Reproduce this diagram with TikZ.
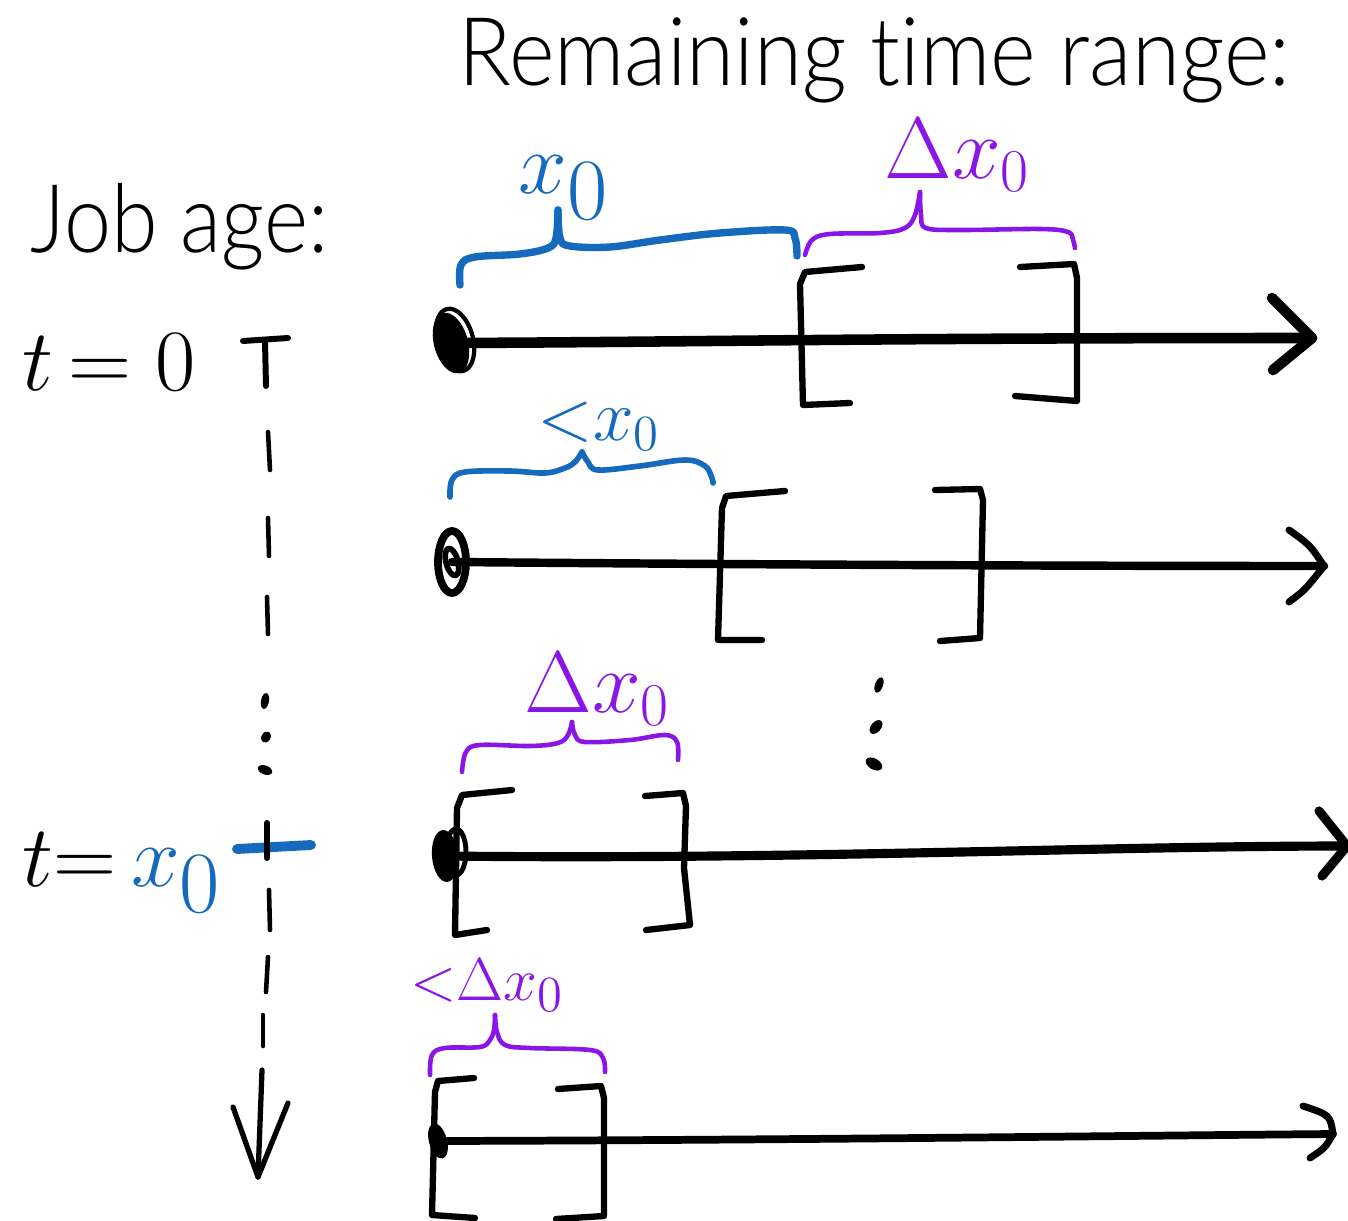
\documentclass[tikz,border=0pt]{standalone}
\usepackage{fontspec}
\setmainfont{Lato}
\newfontfamily\headfont{Lato Light}[Ligatures=NoCommon]
\definecolor{penblue}{RGB}{22,106,189}
\definecolor{penpurple}{RGB}{137,22,230}

\begin{document}
\begin{tikzpicture}[x=0.01cm,y=-0.01cm,
  ink/.style={line cap=round,line join=round},
  axisline/.style={ink,line width=2.6pt},
  bracketline/.style={ink,line width=1.8pt},
  bluebrace/.style={ink,penblue,line width=2.1pt},
  purplebrace/.style={ink,penpurple,line width=1.3pt},
  tickline/.style={ink,line width=1.3pt},
  heading/.style={font=\headfont\fontsize{27}{30}\selectfont,inner sep=0pt,anchor=base west},
  hand/.style={inner sep=0pt,anchor=base west},
]
\useasboundingbox (0,0) rectangle (1348,1221);

% headings
\node[heading] (title) at (458,85) {\scalebox{0.92}[1]{Remaining time range:}};
\node[heading] (jobage) at (30,252) {\scalebox{0.89}[1]{Job age:}};

% job-age labels
\node[hand,font=\fontsize{37}{37}\selectfont] (tzero) at (22,390) {$t\,{=}\;0$};
\node[hand,font=\fontsize{37}{37}\selectfont] (txzero) at (22,886) {$t{=}\,{\color{penblue}x_0}$};

% vertical time axis
\draw[tickline,line width=1.7pt] (243,341) -- (288,338);
\draw[tickline,line width=1.7pt] (265,341) -- (266,386);
\draw[tickline] (268,432) -- (270,470);
\draw[tickline] (268,518) -- (269,556);
\draw[tickline] (267,597) -- (268,634);
\fill[rotate around={-10:(265,701)}] (265,701) ellipse [x radius=0.04cm,y radius=0.08cm];
\fill[rotate around={-30:(266,737)}] (266,737) ellipse [x radius=0.045cm,y radius=0.06cm];
\fill[rotate around={-20:(265,770)}] (265,770) ellipse [x radius=0.075cm,y radius=0.045cm];
\draw[ink,penblue,line width=2.8pt] (237,849) -- (311,845);
\draw[tickline,line width=1.7pt] (267,823) -- (267,858);
\draw[tickline] (269,890) -- (270,930);
\draw[tickline] (268,957) -- (266,992);
\draw[tickline] (263,1015) -- (263,1046);
\coordinate (tend) at (258,1177);
\draw[tickline,line width=1.5pt] (262,1070) -- (tend);
\draw[tickline,line width=1.5pt] (233,1107) -- (tend) -- (288,1103);

% ---------- row 1 : t = 0 ----------
\coordinate (d1) at (451,343);
\coordinate (e1) at (1312,338);
\fill[rotate around={15:(d1)}] (d1) ellipse [x radius=0.17cm,y radius=0.31cm];
\draw[ink,line width=1.2pt,rotate around={15:(455,340)}] (455,340) ellipse [x radius=0.18cm,y radius=0.32cm];
\draw[axisline,line width=3pt] (d1) .. controls (700,342) and (850,338) .. (e1);
\draw[axisline,line width=3pt] (e1) ++(-40,-40) -- (e1) -- ++(-39,32);
\draw[bracketline] (862,267) -- (805,272) -- (800,284) -- (803,405) -- (850,403);
\draw[bracketline] (1020,267) -- (1074,264) -- (1077,278) -- (1077,401) -- (1015,396);
\draw[bluebrace] plot[smooth,tension=0.6] coordinates {(460,285) (461,265) (475,257) (520,254) (548,248) (556,238) (558,210)};
\draw[bluebrace] plot[smooth,tension=0.6] coordinates {(558,210) (560,238) (570,246) (610,247) (660,240) (720,233) (785,230) (795,238) (797,256)};
\draw[purplebrace] plot[smooth,tension=0.6] coordinates {(805,255) (812,240) (830,234) (880,233) (905,228) (915,215) (920,192)};
\draw[purplebrace] plot[smooth,tension=0.6] coordinates {(920,192) (921,215) (926,228) (960,230) (1040,229) (1068,232) (1073,240) (1075,248)};
\node[hand,font=\fontsize{34}{34}\selectfont,text=penblue] (lab1) at (518,193) {$x_0$};
\node[hand,font=\fontsize{23}{23}\selectfont,text=penpurple] (lab2) at (884,178) {$\Delta x_0$};

% ---------- row 2 ----------
\coordinate (d2) at (452,562);
\coordinate (e2) at (1324,566);
\draw[ink,line width=2.2pt] (d2) ellipse [x radius=0.14cm,y radius=0.31cm];
\draw[ink,line width=1.6pt,rotate around={15:(d2)}] (d2) ellipse [x radius=0.06cm,y radius=0.14cm];
\draw[axisline,line width=2.4pt] (d2) .. controls (800,565) and (1100,566) .. (e2);
\draw[axisline,line width=2pt] (1289,530) .. controls (1310,545) .. (e2) .. controls (1305,590) .. (1289,602);
\draw[bracketline] (785,491) -- (726,496) -- (722,508) -- (718,640) -- (762,640);
\draw[bracketline] (935,490) -- (980,489) -- (983,500) -- (980,638) -- (940,641);
\draw[bluebrace,line width=1.6pt] plot[smooth,tension=0.6] coordinates {(450,497) (452,480) (465,472) (510,471) (545,473) (565,468) (575,462) (582,452)};
\draw[bluebrace,line width=1.6pt] plot[smooth,tension=0.6] coordinates {(582,452) (588,462) (598,470) (640,466) (685,460) (705,466) (712,478) (713,483)};
\node[hand,font=\fontsize{20}{20}\selectfont,text=penblue] (lab3) at (537,440) {${<}x_0$};

% dots between rows
\fill[rotate around={-20:(879,685)}] (879,685) ellipse [x radius=0.04cm,y radius=0.08cm];
\fill[rotate around={-40:(876,727)}] (876,727) ellipse [x radius=0.05cm,y radius=0.08cm];
\fill[rotate around={-30:(874,764)}] (874,764) ellipse [x radius=0.09cm,y radius=0.055cm];

% ---------- row 3 : t = x0 ----------
\coordinate (d3) at (445,856);
\coordinate (e3) at (1347,846);
\fill[rotate around={5:(d3)}] (d3) ellipse [x radius=0.13cm,y radius=0.26cm];
\draw[ink,line width=1.4pt] (456,852) ellipse [x radius=0.1cm,y radius=0.23cm];
\draw[axisline] (d3) .. controls (800,860) and (1100,846) .. (e3);
\draw[axisline] (e3) ++(-28,-35) -- (e3) -- ++(-25,30);
\draw[bracketline] (512,790) -- (462,795) -- (457,808) -- (455,935) -- (487,930);
\draw[bracketline] (645,796) -- (683,793) -- (686,806) -- (684,868) -- (690,925) -- (646,930);
\draw[purplebrace] plot[smooth,tension=0.6] coordinates {(462,772) (466,752) (480,745) (530,746) (558,743) (568,735) (572,722)};
\draw[purplebrace] plot[smooth,tension=0.6] coordinates {(572,722) (575,735) (585,742) (630,740) (665,735) (677,742) (678,760)};
\node[hand,font=\fontsize{23}{23}\selectfont,text=penpurple] (lab4) at (524,712) {$\Delta x_0$};

% ---------- row 4 ----------
\coordinate (d4) at (438,1141);
\coordinate (e4) at (1333,1134);
\fill[rotate around={15:(d4)}] (d4) ellipse [x radius=0.09cm,y radius=0.18cm];
\draw[axisline,line width=2.2pt] (d4) .. controls (800,1140) and (1100,1136) .. (e4);
\draw[axisline,line width=2pt] (1303,1106) .. controls (1330,1115) .. (e4) .. controls (1325,1148) .. (1310,1158);
\draw[bracketline] (474,1078) -- (438,1081) -- (435,1092) -- (432,1215) -- (475,1218);
\draw[bracketline] (558,1089) -- (601,1086) -- (604,1098) -- (604,1216) -- (556,1219);
\draw[purplebrace] plot[smooth,tension=0.6] coordinates {(430,1075) (432,1055) (445,1048) (480,1047) (490,1040) (494,1030) (495,1015)};
\draw[purplebrace] plot[smooth,tension=0.6] coordinates {(495,1015) (497,1032) (505,1045) (530,1048) (590,1050) (603,1058) (605,1072)};
\node[hand,font=\fontsize{19}{19}\selectfont,text=penpurple] (lab5) at (410,1000) {${<}\Delta x_0$};
\end{tikzpicture}
\end{document}
